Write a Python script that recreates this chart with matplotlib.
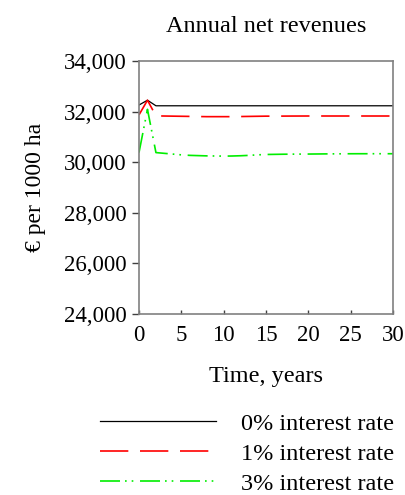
import matplotlib
matplotlib.use("Agg")
import matplotlib.pyplot as plt
from matplotlib.ticker import FuncFormatter

years = list(range(0, 31))
rate0 = [32260, 32450] + [32230] * 29
rate1 = [31870, 32450, 31830, 31825, 31820, 31815, 31810, 31805, 31800, 31800,
         31800, 31800, 31805, 31810, 31815, 31820, 31820, 31822, 31824, 31825,
         31826, 31826, 31826, 31826, 31826, 31826, 31826, 31826, 31826, 31826, 31826]
rate3 = [30380, 32090, 30380, 30350, 30320, 30290, 30270, 30260, 30250, 30245,
         30240, 30245, 30255, 30270, 30290, 30305, 30310, 30315, 30318, 30320,
         30322, 30325, 30328, 30330, 30332, 30334, 30335, 30335, 30335, 30335, 30335]
labels = ["0% interest rate", "1% interest rate", "3% interest rate"]
title = "Annual net revenues"
xlabel = "Time, years"
ylabel = "€ per 1000 ha"

plt.rcParams['font.family'] = ['Liberation Serif', 'DejaVu Serif']

fig = plt.figure(figsize=(4.06, 4.95), dpi=100)
ax = fig.add_axes([139/406, 1 - 314/495, (393 - 139)/406, (314 - 61)/495])

l0, = ax.plot(years, rate0, color='#000000', lw=0.9, label=labels[0])
l1, = ax.plot(years, rate1, color='#ff0000', lw=1.2, label=labels[1],
              dashes=(17, 7))
l3, = ax.plot(years, rate3, color='#00ee00', lw=1.2, label=labels[2],
              dashes=(12, 3, 1, 3, 1, 4))

ax.set_xlim(0, 30)
ax.set_ylim(24000, 34000)
ax.set_xticks(range(0, 31, 5))
ax.set_yticks(range(24000, 34001, 2000))
ax.yaxis.set_major_formatter(FuncFormatter(lambda v, p: f"{int(v):,}"))

for s in ax.spines.values():
    s.set_color('#808080')
    s.set_linewidth(1.2)

ax.tick_params(axis='y', direction='out', length=5, width=1, color='#404040',
               labelsize=16.5, pad=4)
ax.tick_params(axis='x', direction='in', length=3, width=1, color='#404040',
               labelsize=16.5, pad=8)

ax.set_title(title, fontsize=17.5, pad=21)
ax.set_xlabel(xlabel, fontsize=17.5, labelpad=14)
ax.set_ylabel(ylabel, fontsize=17, labelpad=13)

fig.legend(handles=[l0, l1, l3], labels=labels, loc='upper left',
           bbox_to_anchor=(90/406, 1 - 403/495), frameon=False,
           fontsize=17.5, handlelength=4.8, handletextpad=1.0,
           labelspacing=0.33, borderaxespad=0)

fig.savefig("out.png", dpi=100)
